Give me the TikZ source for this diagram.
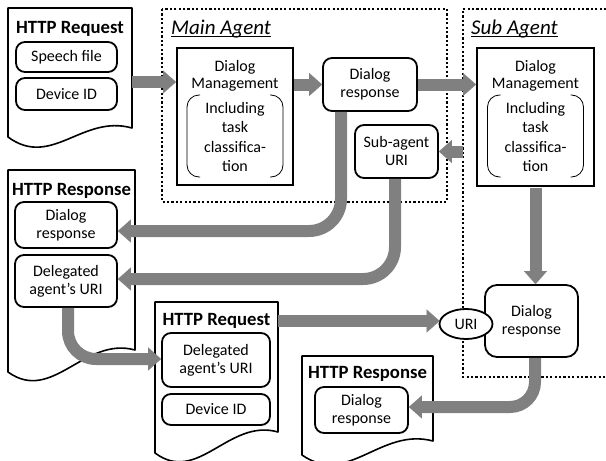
\documentclass[tikz,border=0pt]{standalone}
\usepackage{fontspec}
\setmainfont{Carlito}
\usetikzlibrary{arrows.meta,shapes.geometric,calc}
\definecolor{flowgray}{RGB}{128,128,128}
\tikzset{
  body/.style={font=\fontsize{16}{18}\selectfont, align=center},
  frame/.style={line width=2.4pt, dash pattern=on 2.2pt off 2.2pt},
  docline/.style={draw, line width=1.6pt, fill=white, line join=round},
  rbox/.style={draw, line width=1.8pt, rounded corners=9pt, fill=white, inner sep=0pt, body},
  dmbox/.style={draw, line width=2pt, fill=white, inner sep=0pt},
  bracket/.style={line width=0.8pt, rounded corners=12pt},
  flow/.style={line width=12pt, draw=flowgray,
    -{Triangle[width=23pt,length=13pt,line width=0.1pt,fill=flowgray]}},
  doctitle/.style={font=\fontsize{18.7}{20}\selectfont\bfseries, inner sep=0pt, anchor=base},
  agenttitle/.style={font=\fontsize{21}{22}\selectfont\itshape, inner sep=0pt, anchor=base west},
  plain/.style={inner sep=0pt, body},
}
% document shape with a wavy bottom: left, top, right, bottom-left, bottom-right
\newcommand\docshape[5]{%
  \pgfmathsetmacro\dw{#3-#1}%
  \draw[docline] (#1,#2) -- (#3,#2) -- (#3,#5)
    .. controls ({#1+0.6*\dw},{#5-14}) and ({#1+0.35*\dw},{#4+32}) .. (#1,#4) -- cycle;
}
\begin{document}
\begin{tikzpicture}[x=1pt,y=-1pt]
\useasboundingbox[fill=white] (0,0) rectangle (606,461);

% agent frames
\draw[frame] (162,9) rectangle (447,202);
\draw[frame] (615,9) -- (463,9) -- (463,377) -- (615,377);
\node[agenttitle] (mtitle) at (171,34) {Main Agent};
\draw[line width=1.2pt] ([yshift=-2.5pt]mtitle.base west) -- ([yshift=-2.5pt]mtitle.base east);
\node[agenttitle] (stitle) at (471,34) {Sub Agent};
\draw[line width=1.2pt] ([yshift=-2.5pt]stitle.base west) -- ([yshift=-2.5pt]stitle.base east);

% request / response documents
\docshape{8}{8}{132}{137}{128}
\docshape{8}{170}{135}{372}{350}
\docshape{155}{302}{278}{453}{432}
\docshape{302}{356}{433}{455}{441}

\node[doctitle] (q1t) at (70,33) {HTTP Request};
\node[doctitle] (p1t) at (71.5,195) {HTTP Response};
\node[doctitle] (q2t) at (216.5,325) {HTTP Request};
\node[doctitle] (p2t) at (367.5,378) {HTTP Response};

% dialog management blocks
\node[dmbox, minimum width=116pt, minimum height=137pt] (mdm) at (235,116.5) {};
\node[dmbox, minimum width=117pt, minimum height=138pt] (sdm) at (535.5,117) {};

% inner boxes
\node[rbox, minimum width=101pt, minimum height=30pt] (q1a) at (66.5,57) {Speech file};
\node[rbox, minimum width=101pt, minimum height=32pt] (q1b) at (66.5,94) {Device ID};
\node[rbox, minimum width=102pt, minimum height=46pt] (p1a) at (66,225) {Dialog\\response};
\node[rbox, minimum width=102pt, minimum height=52pt] (p1b) at (66,281) {Delegated\\agent’s URI};
\node[rbox, minimum width=108pt, minimum height=54pt] (q2a) at (216,360) {Delegated\\agent’s URI};
\node[rbox, minimum width=108pt, minimum height=31pt] (q2b) at (216,409.5) {Device ID};
\node[rbox, minimum width=93pt, minimum height=46pt] (p2a) at (361.5,410) {Dialog\\response};
\node[rbox, minimum width=94pt, minimum height=53pt] (mdr) at (370,84.5) {Dialog\\response};
\node[rbox, minimum width=83pt, minimum height=53pt] (suri) at (396.5,151.5) {Sub-agent\\URI};
\node[rbox, rounded corners=12pt, minimum width=93pt, minimum height=72pt] (sdr) at (531.5,321) {Dialog\\response};

% connectors
\coordinate (a1s) at (132,82);
\coordinate (a4s) at (463,151.5);
\coordinate (a8s) at (278,321);
\draw[flow] (a1s) -- (mdm.west |- a1s);
\draw[flow] (mdm.east |- mdr.west) -- (mdr.west);
\draw[flow] (mdr.east) -- (sdm.west |- mdr.east);
\draw[flow] (a4s) -- (suri.east);
\draw[flow, rounded corners=32pt] ([xshift=-29pt]mdr.south) |- ([yshift=-6pt]p1a.east);
\draw[flow, rounded corners=32pt] ([xshift=-1.5pt]suri.south) |- ([yshift=2pt]p1b.east);
\draw[flow, rounded corners=28pt] ([xshift=2pt]p1b.south) |- ([yshift=1pt]q2a.west);
\draw[flow] ([yshift=-0.5pt]sdm.south) -- (sdm.south |- sdr.north);
\draw[flow, rounded corners=25pt] ([xshift=3.5pt]sdr.south) |- ([yshift=3pt]p2a.east);

\node[draw, ellipse, line width=1.8pt, fill=white, inner sep=0pt,
      minimum width=53pt, minimum height=30pt, body] (uri) at (466,324) {URI};
\draw[flow] (a8s) -- ([xshift=1pt]uri.west |- a8s);

% dialog management texts and brackets
\node[plain, font=\fontsize{16}{17.5}\selectfont] (mdmt) at (235,76) {Dialog\\Management};
\node[plain, font=\fontsize{16}{19.5}\selectfont] (mdmi) at (235,137) {Including\\task\\classifica-\\tion};
\draw[bracket] (200,95) -- (187,95) -- (187,177) -- (200,177);
\draw[bracket] (270,95) -- (283,95) -- (283,177) -- (270,177);
\node[plain, font=\fontsize{16}{17.5}\selectfont] (sdmt) at (535.5,76) {Dialog\\Management};
\node[plain, font=\fontsize{16}{19.5}\selectfont] (sdmi) at (535.5,137) {Including\\task\\classifica-\\tion};
\draw[bracket] (500.5,95) -- (487.5,95) -- (487.5,177) -- (500.5,177);
\draw[bracket] (570.5,95) -- (583.5,95) -- (583.5,177) -- (570.5,177);
\end{tikzpicture}
\end{document}
